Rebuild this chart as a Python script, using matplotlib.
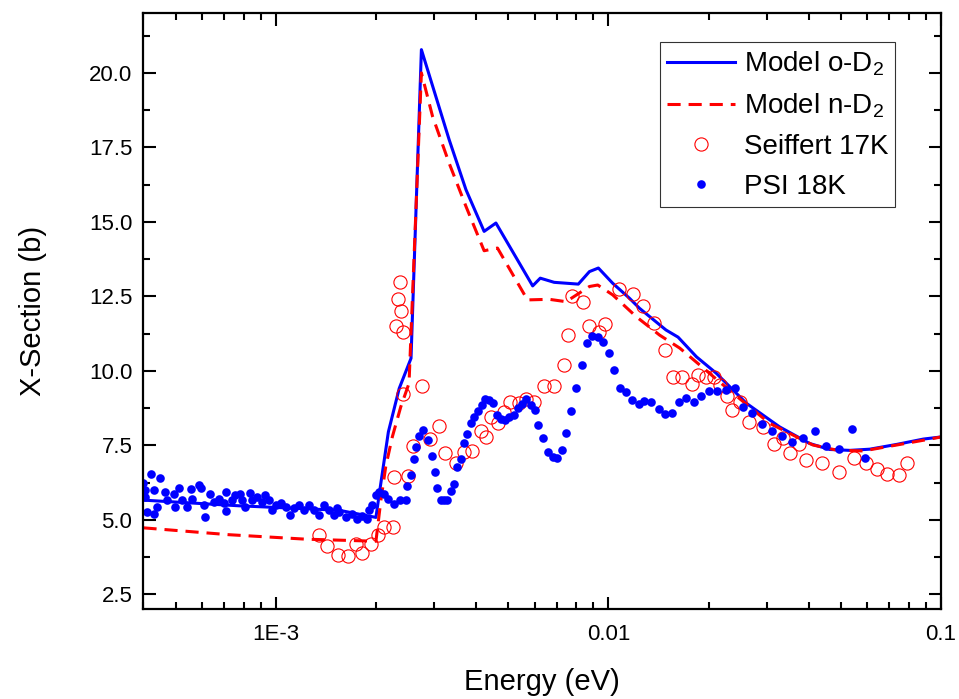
import matplotlib
matplotlib.use("Agg")
import matplotlib.pyplot as plt
from matplotlib.ticker import FixedLocator, FixedFormatter, LogLocator, NullFormatter, MultipleLocator, FormatStrFormatter

plt.rcParams["font.family"] = ["Liberation Sans", "DejaVu Sans"]
plt.rcParams["mathtext.default"] = "regular"

# model curves: energy (eV) and cross section (b)
model_o_energy = [4.0e-4, 7.74e-4, 1.55e-3, 2.0e-3, 2.055e-3, 2.18e-3, 2.35e-3, 2.55e-3, 2.74e-3,
                  3.32e-3, 3.73e-3, 4.23e-3, 4.59e-3, 5.92e-3, 6.24e-3, 6.87e-3, 8.12e-3, 8.77e-3,
                  9.33e-3, 1.03e-2, 1.156e-2, 1.24e-2, 1.49e-2, 1.62e-2, 1.84e-2, 2.11e-2, 2.60e-2,
                  3.27e-2, 4.03e-2, 4.63e-2, 5.32e-2, 6.11e-2, 7.36e-2, 8.86e-2, 0.1]
model_o_xs = [5.66, 5.47, 5.32, 5.08, 6.0, 7.95, 9.41, 10.42, 20.78,
              17.76, 16.08, 14.68, 14.96, 12.85, 13.11, 12.97, 12.91, 13.33,
              13.45, 12.94, 12.44, 12.1, 11.37, 11.13, 10.47, 9.92, 8.91,
              8.12, 7.56, 7.36, 7.33, 7.37, 7.53, 7.71, 7.78]

model_n_energy = [4.0e-4, 7.22e-4, 1.229e-3, 2.0e-3, 2.07e-3, 2.14e-3, 2.24e-3, 2.375e-3, 2.515e-3,
                  2.74e-3, 2.96e-3, 3.32e-3, 3.73e-3, 4.23e-3, 4.64e-3, 5.71e-3, 6.64e-3, 7.46e-3,
                  8.77e-3, 9.29e-3, 1.03e-2, 1.212e-2, 1.425e-2, 1.64e-2, 1.88e-2, 2.31e-2, 3.05e-2,
                  4.12e-2, 4.85e-2, 5.83e-2, 7.36e-2, 9.27e-2, 0.1]
model_n_xs = [4.73, 4.50, 4.35, 4.28, 5.66, 6.78, 7.78, 8.79, 9.58,
              20.0, 18.54, 16.97, 15.52, 14.03, 14.12, 12.38, 12.40, 12.32,
              12.83, 12.88, 12.55, 11.82, 11.2, 10.76, 10.2, 9.35, 8.24,
              7.51, 7.34, 7.31, 7.51, 7.71, 7.78]

# Seiffert 17K measurement
seiffert_energy = [1.348e-3, 1.428e-3, 1.541e-3, 1.651e-3, 1.738e-3, 1.819e-3, 1.928e-3, 2.032e-3,
                   2.115e-3, 2.251e-3, 2.267e-3, 2.303e-3, 2.336e-3, 2.363e-3, 2.385e-3, 2.408e-3,
                   2.413e-3, 2.503e-3, 2.592e-3, 2.748e-3, 2.904e-3, 3.097e-3, 3.228e-3, 3.476e-3,
                   3.682e-3, 3.900e-3, 4.134e-3, 4.279e-3, 4.431e-3, 4.671e-3, 4.859e-3, 5.066e-3,
                   5.392e-3, 5.672e-3, 5.957e-3, 6.385e-3, 6.843e-3, 7.371e-3, 7.577e-3, 7.775e-3,
                   8.368e-3, 8.724e-3, 9.350e-3, 9.748e-3, 1.074e-2, 1.183e-2, 1.269e-2, 1.369e-2,
                   1.482e-2, 1.562e-2, 1.667e-2, 1.781e-2, 1.866e-2, 1.969e-2, 2.076e-2, 2.159e-2,
                   2.271e-2, 2.351e-2, 2.492e-2, 2.640e-2, 2.916e-2, 3.141e-2, 3.350e-2, 3.526e-2,
                   3.743e-2, 3.940e-2, 4.390e-2, 4.929e-2, 5.482e-2, 5.942e-2, 6.400e-2, 6.861e-2,
                   7.487e-2, 7.880e-2]
seiffert_xs = [4.50, 4.11, 3.81, 3.77, 4.20, 3.87, 4.20, 4.48,
               4.76, 4.76, 6.44, 11.52, 12.40, 12.99, 12.01, 11.31,
               9.21, 6.46, 7.48, 9.49, 7.71, 8.15, 7.23, 6.92,
               7.26, 7.30, 7.99, 7.79, 8.44, 8.24, 8.63, 8.96,
               8.91, 9.04, 8.96, 9.50, 9.50, 10.20, 11.21, 12.51,
               12.30, 11.51, 11.31, 11.56, 12.75, 12.58, 12.18, 11.60,
               10.70, 9.78, 9.78, 9.55, 9.86, 9.80, 9.80, 9.52,
               9.15, 8.68, 8.94, 8.29, 8.12, 7.54, 7.76, 7.25,
               7.56, 7.00, 6.91, 6.59, 7.08, 6.92, 6.69, 6.53,
               6.50, 6.91]

# PSI 18K measurement
psi_energy = [4.00e-4, 4.05e-4, 4.05e-4, 4.10e-4, 4.22e-4, 4.29e-4, 4.29e-4, 4.39e-4, 4.50e-4,
              4.65e-4, 4.71e-4, 4.93e-4, 4.99e-4, 5.13e-4, 5.22e-4, 5.41e-4, 5.57e-4, 5.60e-4,
              5.86e-4, 5.97e-4, 6.07e-4, 6.14e-4, 6.36e-4, 6.51e-4, 6.74e-4, 6.97e-4, 7.06e-4,
              7.09e-4, 7.39e-4, 7.56e-4, 7.83e-4, 7.92e-4, 8.07e-4, 8.39e-4, 8.48e-4, 8.79e-4,
              9.06e-4, 9.31e-4, 9.53e-4, 9.75e-4, 9.98e-4, 1.033e-3, 1.070e-3, 1.107e-3, 1.133e-3,
              1.173e-3, 1.214e-3, 1.257e-3, 1.302e-3, 1.348e-3, 1.395e-3, 1.444e-3, 1.495e-3,
              1.530e-3, 1.548e-3, 1.622e-3, 1.697e-3, 1.757e-3, 1.819e-3, 1.884e-3, 1.906e-3,
              1.950e-3, 2.005e-3, 2.043e-3, 2.115e-3, 2.180e-3, 2.267e-3, 2.358e-3, 2.459e-3,
              2.486e-3, 2.545e-3, 2.605e-3, 2.646e-3, 2.696e-3, 2.772e-3, 2.875e-3, 2.944e-3,
              3.006e-3, 3.061e-3, 3.134e-3, 3.206e-3, 3.281e-3, 3.359e-3, 3.437e-3, 3.517e-3,
              3.601e-3, 3.684e-3, 3.770e-3, 3.859e-3, 3.949e-3, 4.068e-3, 4.182e-3, 4.261e-3,
              4.381e-3, 4.513e-3, 4.640e-3, 4.770e-3, 4.894e-3, 5.032e-3, 5.185e-3, 5.330e-3,
              5.496e-3, 5.650e-3, 5.850e-3, 6.014e-3, 6.154e-3, 6.371e-3, 6.564e-3, 6.795e-3,
              7.006e-3, 7.253e-3, 7.458e-3, 7.738e-3, 7.994e-3, 8.311e-3, 8.603e-3, 8.932e-3,
              9.286e-3, 9.638e-3, 1.005e-2, 1.042e-2, 1.084e-2, 1.131e-2, 1.179e-2, 1.234e-2,
              1.284e-2, 1.345e-2, 1.415e-2, 1.482e-2, 1.551e-2, 1.625e-2, 1.714e-2, 1.803e-2,
              1.902e-2, 2.005e-2, 2.126e-2, 2.251e-2, 2.396e-2, 2.538e-2, 2.709e-2, 2.895e-2,
              3.104e-2, 3.337e-2, 3.576e-2, 3.848e-2, 4.174e-2, 4.526e-2, 4.929e-2, 5.383e-2,
              5.902e-2]
psi_xs = [6.22, 6.00, 5.77, 5.26, 6.53, 6.00, 5.19, 5.43, 6.39,
          5.94, 5.66, 5.88, 5.43, 6.08, 5.66, 5.43, 6.05, 5.71,
          6.16, 6.08, 5.49, 5.10, 5.88, 5.60, 5.71, 5.55, 5.29,
          5.94, 5.66, 5.83, 5.88, 5.66, 5.43, 5.90, 5.66, 5.77,
          5.60, 5.83, 5.66, 5.32, 5.49, 5.55, 5.43, 5.15, 5.38,
          5.49, 5.32, 5.49, 5.32, 5.15, 5.49, 5.32, 5.15,
          5.38, 5.26, 5.10, 5.21, 5.04, 5.12, 5.04, 5.32,
          5.50, 5.83, 5.94, 5.88, 5.71, 5.52, 5.66, 5.68,
          6.13, 6.50, 7.03, 7.43, 7.80, 8.01, 7.67, 7.14,
          6.60, 6.07, 5.66, 5.66, 5.66, 5.98, 6.20, 6.78,
          7.03, 7.58, 7.88, 8.26, 8.46, 8.65, 8.85, 9.04,
          9.02, 8.91, 8.51, 8.37, 8.35, 8.46, 8.51, 8.74,
          8.88, 9.04, 8.85, 8.68, 8.18, 7.76, 7.28, 7.11,
          7.08, 7.34, 7.92, 8.65, 9.41, 10.20, 10.94, 11.17,
          11.13, 10.98, 10.59, 10.03, 9.41, 9.30, 9.02, 8.87,
          8.98, 8.96, 8.71, 8.54, 8.57, 8.94, 9.08, 8.96,
          9.15, 9.32, 9.32, 9.35, 9.41, 8.77, 8.57, 8.20,
          7.98, 7.82, 7.62, 7.75, 7.98, 7.47, 7.39, 8.04,
          7.06]

blue = "#0000ff"
red = "#ff0000"

fig = plt.figure(figsize=(9.59, 6.99), dpi=100)
ax = fig.add_axes([0.1496, 0.1285, 0.8316, 0.8525])

ax.plot(model_o_energy, model_o_xs, color=blue, lw=2.2, label="Model o-D$_2$")
ax.plot(model_n_energy, model_n_xs, color=red, lw=2.2, linestyle=(0, (4.3, 2.6)),
        label="Model n-D$_2$")
ax.plot(seiffert_energy, seiffert_xs, linestyle="none", marker="o", ms=9.5,
        mfc="none", mec=red, mew=0.8, label="Seiffert 17K")
ax.plot(psi_energy, psi_xs, linestyle="none", marker="o", ms=6.2,
        mfc=blue, mec="none", label="PSI 18K")

ax.set_xscale("log")
ax.set_xlim(4e-4, 0.1)
ax.set_ylim(2.0, 22.0)

ax.xaxis.set_major_locator(FixedLocator([1e-3, 1e-2, 1e-1]))
ax.xaxis.set_major_formatter(FixedFormatter(["1E-3", "0.01", "0.1"]))
ax.xaxis.set_minor_locator(LogLocator(base=10, subs=range(2, 10)))
ax.xaxis.set_minor_formatter(NullFormatter())
ax.yaxis.set_major_locator(MultipleLocator(2.5))
ax.yaxis.set_major_formatter(FormatStrFormatter("%.1f"))
ax.yaxis.set_minor_locator(MultipleLocator(1.25))

ax.tick_params(which="both", direction="in", top=True, right=True, width=1.5)
ax.tick_params(which="major", length=9, labelsize=16, pad=8)
ax.tick_params(axis="x", which="major", pad=11)
ax.tick_params(which="minor", length=5)
for s in ax.spines.values():
    s.set_linewidth(1.6)

ax.set_xlabel("Energy (eV)", fontsize=21, labelpad=16)
ax.set_ylabel("X-Section (b)", fontsize=21, labelpad=30)

leg = ax.legend(loc="upper right", bbox_to_anchor=(0.9423, 0.951), borderaxespad=0,
                fontsize=20, frameon=True, fancybox=False, edgecolor="black",
                handlelength=2.45, handletextpad=0.3, labelspacing=0.5, borderpad=0.25)
leg.get_frame().set_linewidth(0.8)

fig.savefig("out.png", dpi=100)
